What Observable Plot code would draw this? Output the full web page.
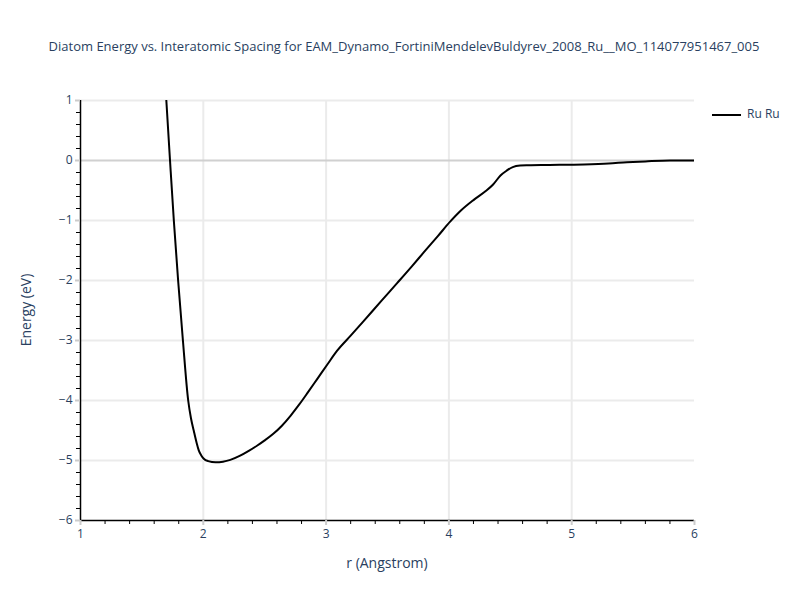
<!DOCTYPE html>
<html>
<head>
<meta charset="utf-8">
<script src="https://cdn.jsdelivr.net/npm/d3@7"></script>
<script src="https://cdn.jsdelivr.net/npm/@observablehq/plot@0.6"></script>
<style>
  body { margin: 0; background: #fff; }
  #wrap { position: relative; width: 800px; height: 600px; font-family: "Open Sans", sans-serif; color: #2a3f5f; }
  #wrap svg { position: absolute; left: 0; top: 0; }
  .lbl { position: absolute; white-space: nowrap; }
</style>
</head>
<body>
<div id="wrap">
  <div class="lbl" id="title" style="left:404px; top:37px; transform:translateX(-50%); font-size:13px;">Diatom Energy vs. Interatomic Spacing for EAM_Dynamo_FortiniMendelevBuldyrev_2008_Ru__MO_114077951467_005</div>
  <div class="lbl" id="xlabel" style="left:387px; top:553px; transform:translateX(-50%); font-size:14px;">r (Angstrom)</div>
  <div class="lbl" id="ylabel" style="left:25px; top:310px; transform:translate(-50%,-50%) rotate(-90deg); font-size:14px;">Energy (eV)</div>
  <div class="lbl" id="legend" style="left:712px; top:105px; font-size:12px;">
    <span style="display:inline-block; width:29px; height:0; border-top:2px solid #000; vertical-align:middle; margin-right:6px;"></span>Ru Ru
  </div>
</div>
<script>
const r = [1.699, 1.729, 1.760, 1.795, 1.834, 1.877, 1.900, 1.922, 1.945, 1.963, 1.985, 2.004, 2.04, 2.10, 2.16, 2.22, 2.30, 2.37, 2.44, 2.50, 2.57, 2.64, 2.71, 2.78, 2.85, 2.93, 3.01, 3.09, 3.20, 3.30, 3.45, 3.58, 3.70, 3.80, 3.91, 4.01, 4.10, 4.20, 4.30, 4.36, 4.42, 4.47, 4.52, 4.58, 4.65, 4.80, 5.10, 5.30, 5.45, 5.60, 5.80, 6.00];
const energy = [1.0, 0.0, -1.0, -2.0, -3.0, -4.0, -4.30, -4.50, -4.70, -4.83, -4.92, -4.97, -5.01, -5.03, -5.02, -4.99, -4.92, -4.84, -4.75, -4.665, -4.555, -4.42, -4.255, -4.07, -3.87, -3.635, -3.40, -3.17, -2.92, -2.69, -2.34, -2.04, -1.76, -1.52, -1.26, -1.02, -0.83, -0.66, -0.51, -0.40, -0.25, -0.17, -0.11, -0.085, -0.08, -0.075, -0.065, -0.05, -0.03, -0.015, 0.0, 0.0];
const xTicks = [1, 2, 3, 4, 5, 6];
const yTicks = [-6, -5, -4, -3, -2, -1, 0, 1];
const xGrid = [2, 3, 4, 5];
const yGrid = [-5, -4, -3, -2, -1, 1];
const xMinor = d3.range(1, 6.001, 0.2).map(v => +v.toFixed(1)).filter(v => !xTicks.includes(v));
const yMinor = d3.range(-6, 1.001, 0.2).map(v => +v.toFixed(1)).filter(v => !yTicks.includes(v));

const data = r.map((x, i) => ({r: x, e: energy[i]}));
const fmt = d => d < 0 ? "\u2212" + Math.abs(d) : String(d);

const chart = Plot.plot({
  width: 800,
  height: 600,
  marginLeft: 80,
  marginRight: 106,
  marginTop: 100,
  marginBottom: 80,
  style: {fontFamily: "'Open Sans', sans-serif", fontSize: "12px", background: "transparent", overflow: "visible"},
  x: {domain: [1, 6]},
  y: {domain: [-6, 1]},
  marks: [
    Plot.ruleX(xGrid, {stroke: "#ebebeb", strokeWidth: 2}),
    Plot.ruleY(yGrid, {stroke: "#ebebeb", strokeWidth: 2}),
    Plot.ruleY([0], {stroke: "#d0d0d0", strokeWidth: 2}),
    Plot.line(data, {x: "r", y: "e", stroke: "#000", strokeWidth: 2, clip: true, curve: "monotone-x"}),
    Plot.ruleX([1], {stroke: "#000", strokeWidth: 1.5}),
    Plot.ruleY([-6], {stroke: "#000", strokeWidth: 1.5}),
    Plot.axisX({ticks: xTicks, tickSize: 5, stroke: "#cccccc", strokeWidth: 2, fill: "#2a3f5f", tickPadding: 4, fontSize: 12, tickFormat: fmt, label: null}),
    Plot.axisX({ticks: xMinor, tickSize: 4, stroke: "#000", tickFormat: () => "", label: null}),
    Plot.axisY({ticks: yTicks, tickSize: 5, stroke: "#cccccc", strokeWidth: 2, fill: "#2a3f5f", tickPadding: 3, fontSize: 12, tickFormat: fmt, label: null}),
    Plot.axisY({ticks: yMinor, tickSize: 4, stroke: "#000", tickFormat: () => "", label: null})
  ]
});
document.getElementById("wrap").prepend(chart);
</script>
</body>
</html>
